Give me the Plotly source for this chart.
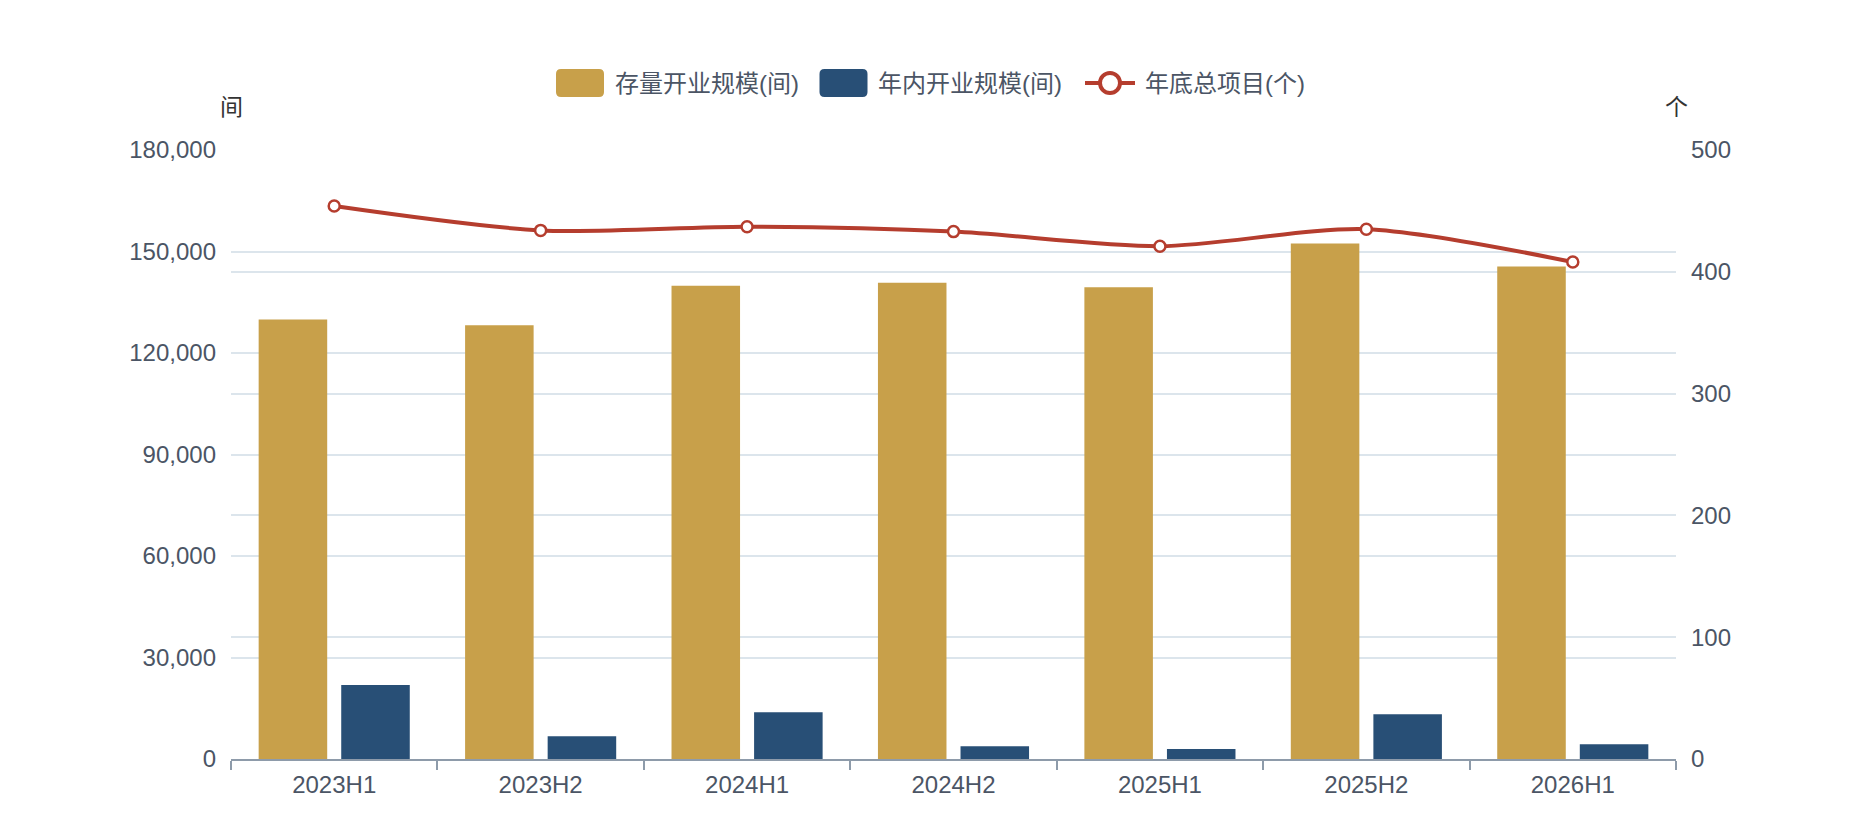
import plotly.graph_objects as go

# 数据
periods = ['2023H1', '2023H2', '2024H1', '2024H2', '2025H1', '2025H2', '2026H1']
stock_rooms = [129900, 128200, 139900, 140800, 139400, 152400, 145600]
new_rooms = [21900, 6700, 13800, 3750, 2950, 13200, 4340]
projects = [454, 434, 437, 433, 421, 435, 408]

left_ticks = [0, 30000, 60000, 90000, 120000, 150000, 180000]
right_ticks = [0, 100, 200, 300, 400, 500]

GOLD = '#C8A04A'
BLUE = '#284F76'
RED = '#B53D2E'
TXT = '#4B5565'
GRID = '#DCE5EC'
FONT = 'Liberation Sans, Noto Sans CJK SC, sans-serif'

W, H = 1860, 840
# plot area as seen on the page (page has an 8px body margin)
SL, SR, ST, SB = 231, 1676, 150, 759
OFF = 8
PW = SR - SL
PH = SB - ST


def px(x):
    return (x - SL) / PW


def py(y):
    return (SB - y) / PH


fig = go.Figure()
fig.add_trace(go.Bar(x=periods, y=stock_rooms, name='存量开业规模(间)',
                     marker=dict(color=GOLD, line=dict(width=0)), showlegend=False))
fig.add_trace(go.Bar(x=periods, y=new_rooms, name='年内开业规模(间)',
                     marker=dict(color=BLUE, line=dict(width=0)), showlegend=False))
fig.add_trace(go.Scatter(x=periods, y=projects, name='年底总项目(个)', yaxis='y2',
                         mode='lines+markers', line=dict(color=RED, width=4, shape='spline', smoothing=0.8),
                         marker=dict(symbol='circle', size=11, color='white', line=dict(color=RED, width=2.5)),
                         showlegend=False))

# 自制图例
ly = py(83)
swatch = 'M -19,-14 L 19,-14 Q 24,-14 24,-9 L 24,9 Q 24,14 19,14 L -19,14 Q -24,14 -24,9 L -24,-9 Q -24,-14 -19,-14 Z'
shapes = []
for cx, col in [(580, GOLD), (843.5, BLUE)]:
    shapes.append(dict(type='path', xref='paper', yref='paper', xsizemode='pixel', ysizemode='pixel',
                       xanchor=px(cx), yanchor=ly, path=swatch, fillcolor=col, line=dict(width=0)))
shapes.append(dict(type='line', xref='paper', yref='paper', x0=px(1085), x1=px(1135), y0=ly, y1=ly,
                   line=dict(color=RED, width=4)))
shapes.append(dict(type='circle', xref='paper', yref='paper', xsizemode='pixel', ysizemode='pixel',
                   xanchor=px(1110), yanchor=ly, x0=-10, x1=10, y0=-10, y1=10,
                   fillcolor='white', line=dict(color=RED, width=4)))

annotations = []
for x0, name in [(613, '存量开业规模(间)'), (876, '年内开业规模(间)'), (1143, '年底总项目(个)')]:
    annotations.append(dict(text=name, xref='paper', yref='paper', x=px(x0), y=ly, xanchor='left',
                            yanchor='middle', showarrow=False, font=dict(size=24, color=TXT, family=FONT)))
annotations.append(dict(text='间', xref='paper', yref='paper', x=0, y=py(107), xanchor='center', yanchor='middle',
                        showarrow=False, font=dict(size=23, color='#333333', family=FONT)))
annotations.append(dict(text='个', xref='paper', yref='paper', x=1, y=py(107), xanchor='center', yanchor='middle',
                        showarrow=False, font=dict(size=23, color='#333333', family=FONT)))

fig.update_layout(
    width=W, height=H,
    margin=dict(l=SL - OFF, r=W - SR + OFF, t=ST - OFF, b=H - SB + OFF, autoexpand=False),
    plot_bgcolor='white', paper_bgcolor='white',
    font=dict(family=FONT, size=24, color=TXT),
    barmode='group', bargap=0.2, bargroupgap=0.17,
    shapes=shapes, annotations=annotations,
    xaxis=dict(showline=True, linecolor='#8E9BAA', linewidth=2, ticks='outside', tickson='boundaries',
               ticklen=9, tickcolor='#8E9BAA', tickwidth=1.5, showgrid=False, ticklabelstandoff=3,
               tickfont=dict(size=24, color=TXT)),
    yaxis=dict(range=[0, 180000], tickvals=left_ticks, tickformat=',', showgrid=True, gridcolor=GRID,
               gridwidth=1.5, zeroline=False, showline=False, ticklabelstandoff=14,
               tickfont=dict(size=24, color=TXT)),
    yaxis2=dict(range=[0, 500], tickvals=right_ticks, overlaying='y', side='right', showgrid=True,
                gridcolor=GRID, gridwidth=1.5, zeroline=False, showline=False, ticklabelstandoff=14,
                tickfont=dict(size=24, color=TXT)),
)

fig.write_html('out.html')
